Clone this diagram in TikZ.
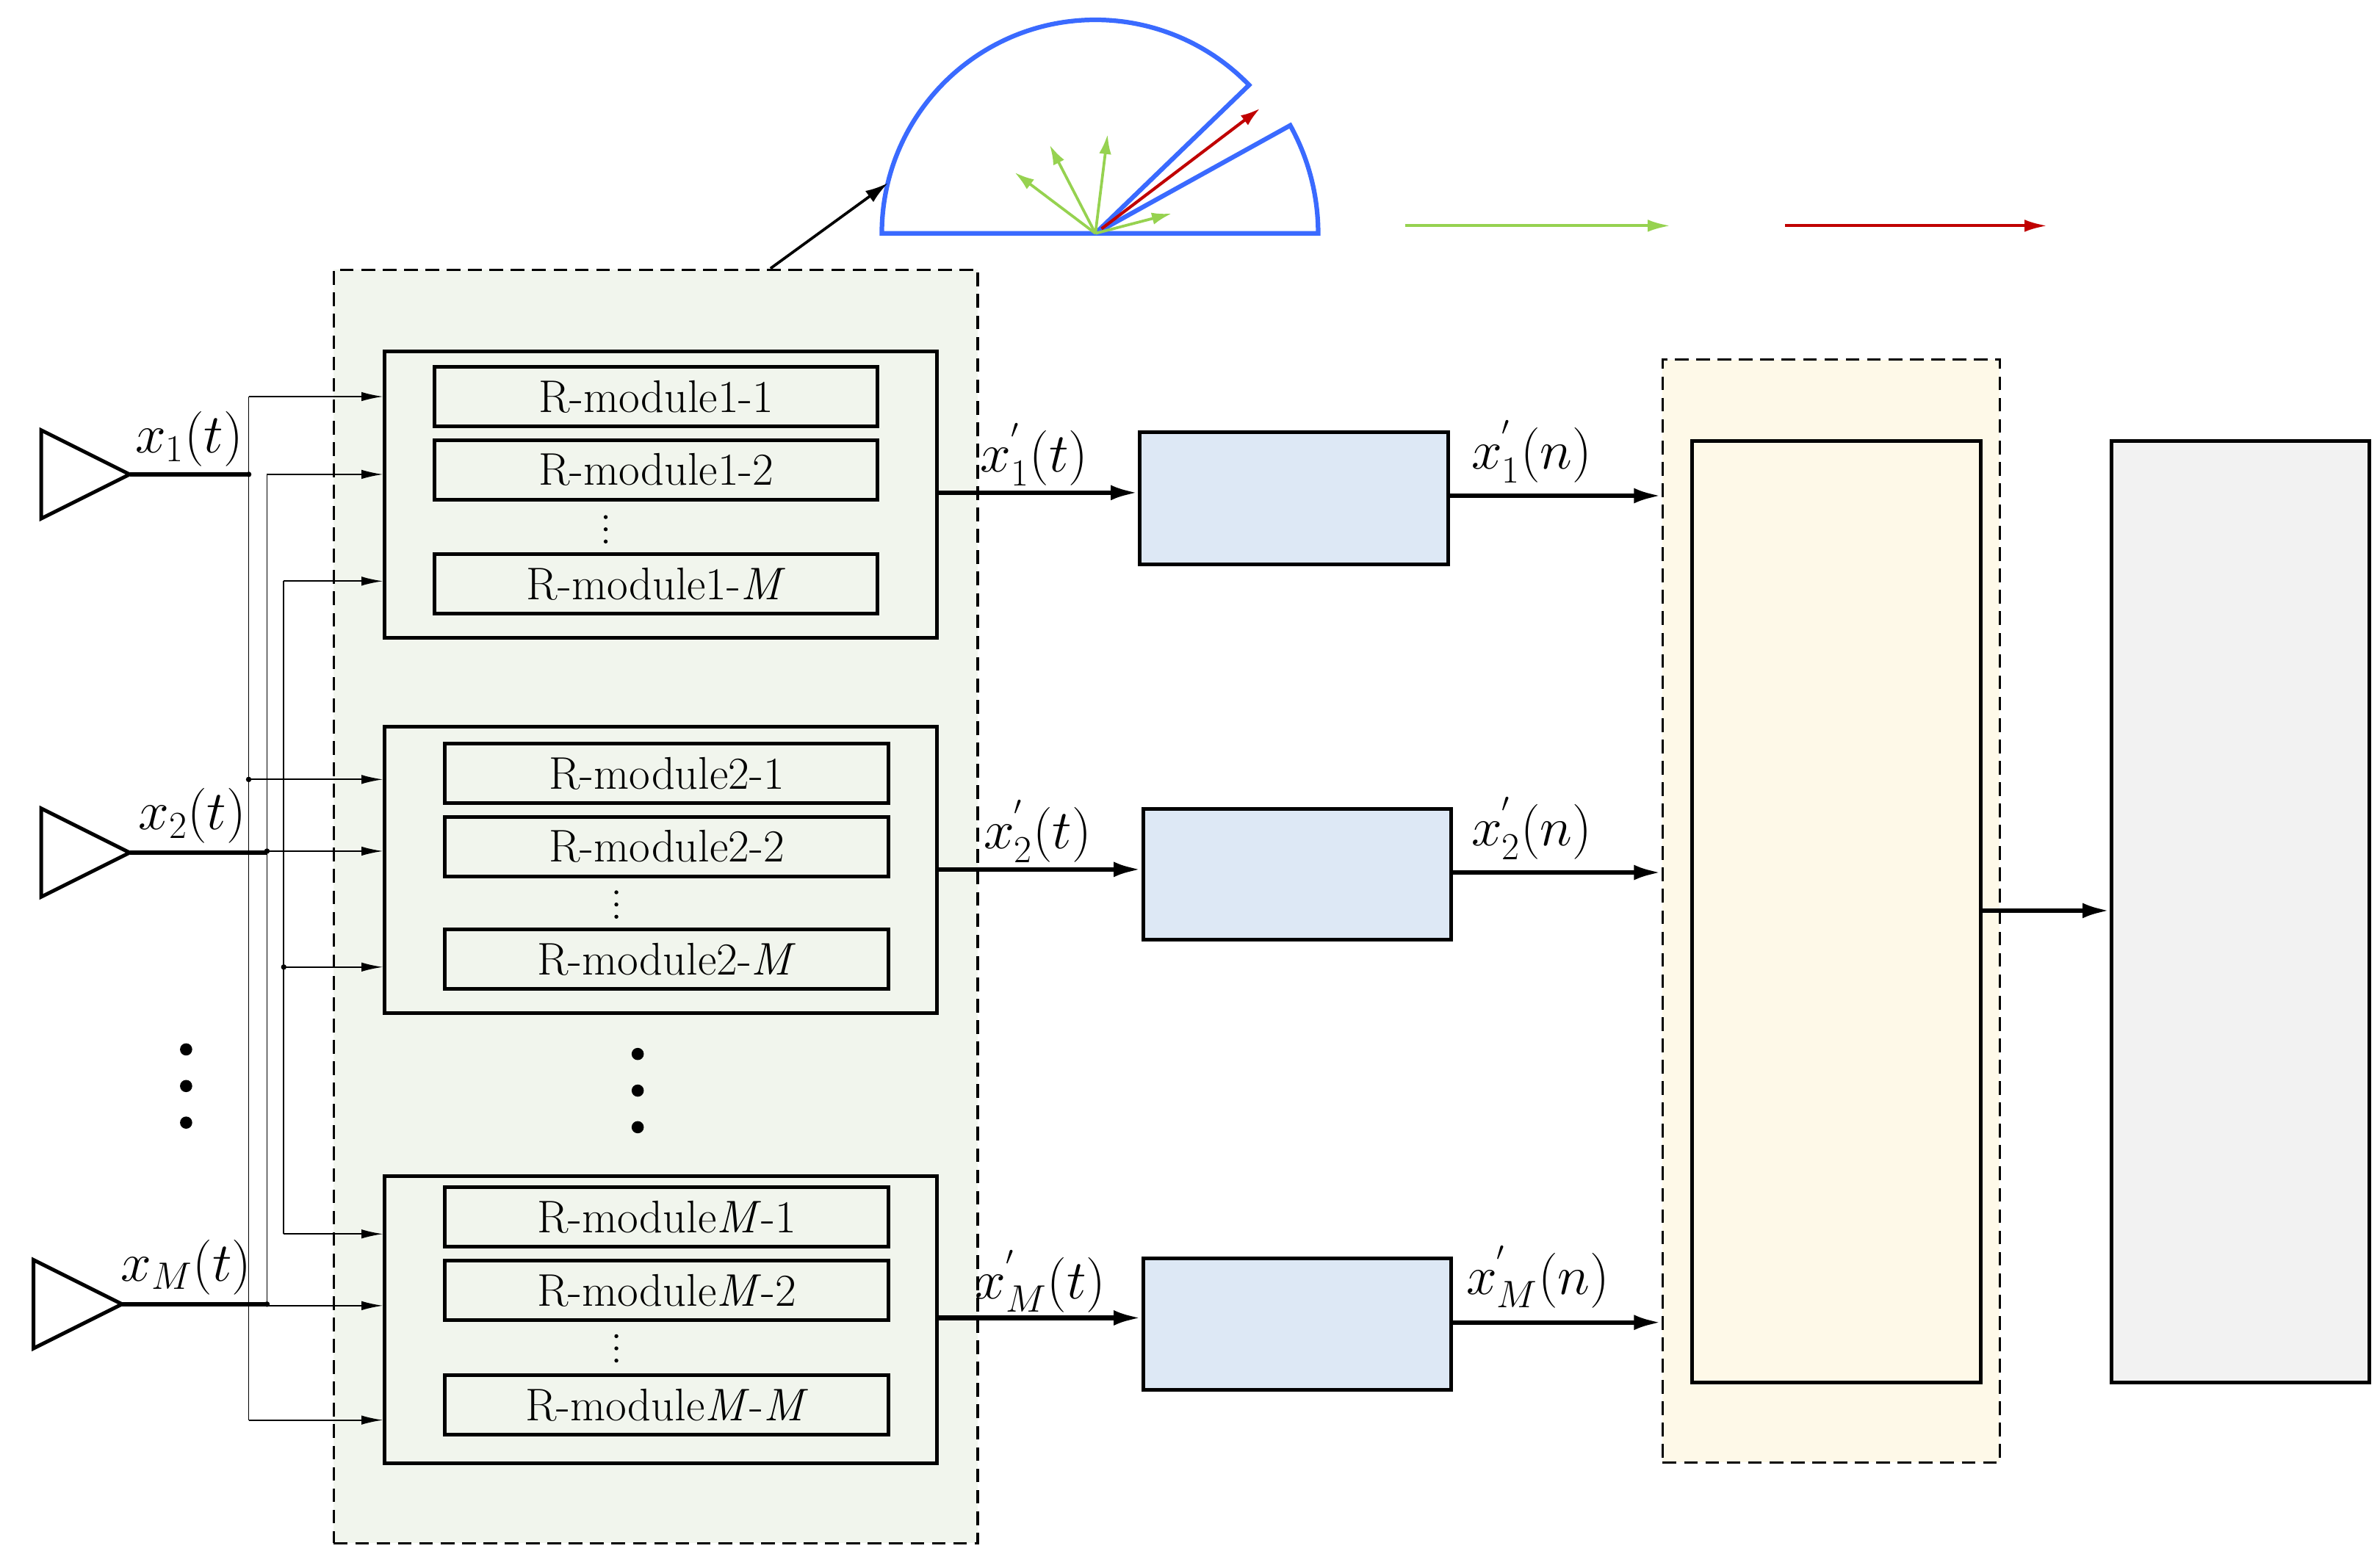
\documentclass[tikz,border=0pt]{standalone}
\usetikzlibrary{arrows.meta}
\begin{document}
\begin{tikzpicture}[x=1pt,y=-1pt,
  box/.style={draw,line width=2.4pt,inner sep=0pt,anchor=north west},
  mod/.style={draw,line width=2.4pt,inner sep=0pt,anchor=center,font=\fontsize{30}{32}\selectfont},
  thin/.style={line width=0.9pt,-{Latex[length=14pt,width=6pt]}},
  fat/.style={line width=3pt,-{Latex[length=18pt,width=10pt]}},
  lbl/.style={font=\fontsize{24}{26}\selectfont,inner sep=0pt,scale=1.45},
  dsh/.style={dash pattern=on 9pt off 5pt,line width=1.6pt},
  ant/.style={draw,line width=2.4pt}]
\useasboundingbox (0,0) rectangle (1560,1026);
% green dashed region
\node[box,dsh,fill={rgb,255:red,241;green,245;blue,237},minimum width=422pt,minimum height=835pt] (G) at (218,176) {};
% module groups
\foreach \n/\y/\xa/\bw/\ya/\yb/\yv/\yc/\ta/\tb/\tc in {1/229/430/290/260/308/347/383/R-module1-1/R-module1-2/R-module1-\textit{M},
   2/475/437/291/507/555/593/629/R-module2-1/R-module2-2/R-module2-\textit{M},
   3/770/437/291/798/846/884/921/R-module\textit{M}-1/R-module\textit{M}-2/R-module\textit{M}-\textit{M}}{
  \node[box,minimum width=362pt,minimum height=188pt] (g\n) at (251,\y) {};
  \node[mod,minimum width=\bw pt,minimum height=39pt] (m\n a) at (\xa,\ya) {\ta};
  \node[mod,minimum width=\bw pt,minimum height=39pt] (m\n b) at (\xa,\yb) {\tb};
  \foreach \d in {-8,0,8} \fill (\xa-33,\yv+\d) circle (1.3pt);
  \node[mod,minimum width=\bw pt,minimum height=39pt] (m\n c) at (\xa,\yc) {\tc};
}
\foreach \d in {-24,0,24} {\fill (418,715+\d) circle (4pt); \fill (122,712+\d) circle (4pt);}
% antennas
\draw[ant] (27,282) -- (27,340) -- (85,311) -- cycle;
\draw[ant] (27,530) -- (27,588) -- (85,559) -- cycle;
\draw[ant] (22,826) -- (22,884) -- (80,855) -- cycle;
\coordinate (a1) at (85,311); \coordinate (a2) at (85,559); \coordinate (a3) at (80,855);
\coordinate (e1) at (163,311); \coordinate (e2) at (175,559); \coordinate (e3) at (175,855);
\draw[line width=3pt] (a1) -- (e1); \draw[line width=3pt] (a2) -- (e2); \draw[line width=3pt] (a3) -- (e3);
\node[lbl] (l1) at (124,288) {$x_1(t)$};
\node[lbl] (l2) at (126,535) {$x_2(t)$};
\node[lbl] (l3) at (122,831) {$x_M(t)$};
% bus lines
\draw[line width=0.9pt] (163,260) -- (163,931);
\draw[line width=0.9pt] (175,311) -- (175,856);
\draw[line width=0.9pt] (186,381) -- (186,809);
\foreach \x/\y in {163/260,175/311,186/381,163/511,175/558,186/634,186/809,175/856,163/931}
  \draw[thin] (\x,\y) -- (251,\y);
\foreach \x/\y in {163/511,175/558,186/634,163/311,175/855}
  \fill (\x,\y) circle (1.8pt);
% ADC boxes
\node[box,fill={rgb,255:red,221;green,232;blue,245},minimum width=202pt,minimum height=87pt] (b1) at (746,282) {};
\node[box,fill={rgb,255:red,221;green,232;blue,245},minimum width=202pt,minimum height=86pt] (b2) at (748,529) {};
\node[box,fill={rgb,255:red,221;green,232;blue,245},minimum width=202pt,minimum height=86pt] (b3) at (748,824) {};
\draw[fat] (613,323) -- (746,323);
\draw[fat] (613,570) -- (748,570);
\draw[fat] (613,864) -- (748,864);
\node[lbl] (o1) at (678,298) {$x^{'}_1(t)$};
\node[lbl] (o2) at (680,545) {$x^{'}_2(t)$};
\node[lbl] (o3) at (682,840) {$x^{'}_M(t)$};
% yellow region
\node[box,dsh,fill={rgb,255:red,254;green,249;blue,232},minimum width=221pt,minimum height=723pt] (Y) at (1089,235) {};
\node[box,fill={rgb,255:red,254;green,249;blue,232},minimum width=189pt,minimum height=617pt] (P) at (1108,288) {};
\draw[fat] (948,325) -- (1089,325);
\draw[fat] (950,572) -- (1089,572);
\draw[fat] (950,867) -- (1089,867);
\node[lbl] (n1) at (1004,296) {$x^{'}_1(n)$};
\node[lbl] (n2) at (1004,543) {$x^{'}_2(n)$};
\node[lbl] (n3) at (1008,837) {$x^{'}_M(n)$};
\node[box,fill={rgb,255:red,242;green,242;blue,242},minimum width=169pt,minimum height=617pt] (Q) at (1383,288) {};
\draw[fat] (1297,597) -- (1383,597);
% sector diagram
\coordinate (c) at (718,153);
\definecolor{bl}{RGB}{58,106,255}
\definecolor{gr}{RGB}{150,210,80}
\definecolor{rd}{RGB}{192,0,0}
\draw[bl,line width=3pt,line join=miter] (c) -- (578,153) arc[start angle=180,end angle=316,radius=140] -- cycle;
\draw[bl,line width=3pt,line join=miter] (c) -- ++(-29:146) arc[start angle=-29,end angle=0,radius=146] -- cycle;
\foreach \p in {(665,113),(688,95),(726,88),(768,140)}
  \draw[gr,line width=1.8pt,-{Latex[length=13pt,width=8pt]}] (c) -- \p;
\draw[rd,line width=2pt,-{Latex[length=13pt,width=8pt]}] (722,150) -- (826,71);
\draw[line width=1.8pt,-{Latex[length=15pt,width=9pt]}] (505,176) -- (582,120);
\draw[gr,line width=2pt,-{Latex[length=15pt,width=8pt]}] (921,148) -- (1095,148);
\draw[rd,line width=2pt,-{Latex[length=15pt,width=8pt]}] (1170,148) -- (1342,148);
\end{tikzpicture}
\end{document}
